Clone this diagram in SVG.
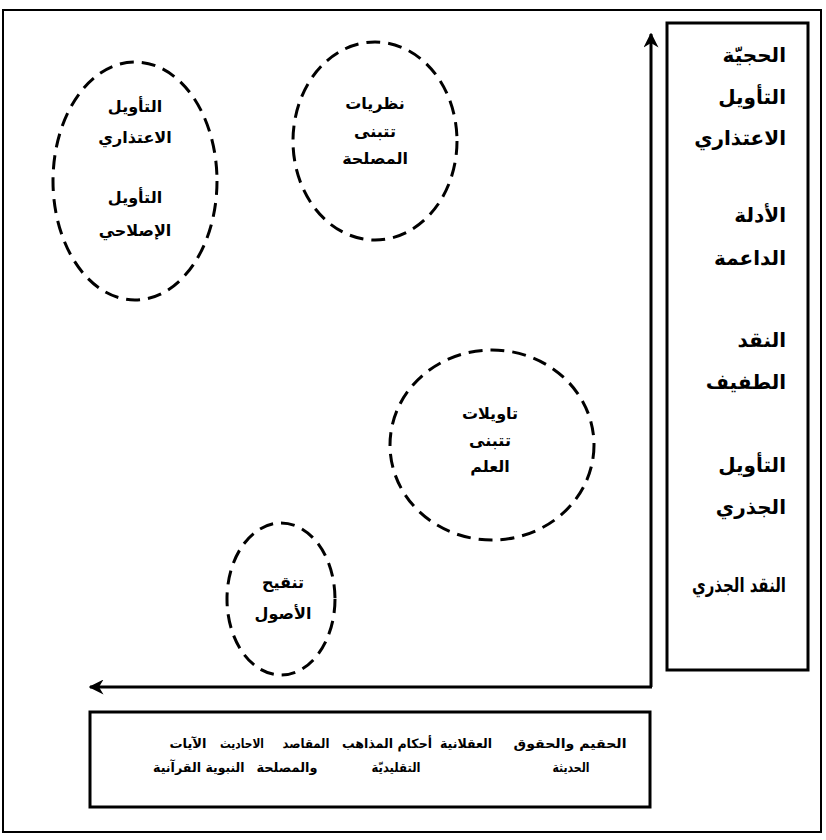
<svg xmlns="http://www.w3.org/2000/svg" width="826" height="840" viewBox="0 0 826 840">
<style>
.frame{fill:none;stroke:#000;stroke-width:2}
.box{fill:none;stroke:#000;stroke-width:3}
.dash{fill:none;stroke:#000;stroke-width:3;stroke-dasharray:14 8}
.ax{fill:none;stroke:#000;stroke-width:3}
text{font-family:"DejaVu Sans","Noto Sans",sans-serif;font-weight:bold;fill:#000}
.r{font-size:20px;text-anchor:end}
.e{font-size:16px;text-anchor:middle}
.b{font-size:13px;text-anchor:middle}
</style>
<defs>
<marker id="ah" viewBox="0 0 10 10" refX="9" refY="5" markerWidth="5" markerHeight="5" orient="auto" markerUnits="strokeWidth">
<path d="M0,0 L10,5 L0,10 L3,5 Z" fill="#000"/>
</marker>
</defs>
<rect x="0" y="0" width="826" height="840" fill="#fff"/>
<rect class="frame" x="3" y="10" width="818" height="822"/>
<g id="connectors">
<line class="ax" x1="651" y1="687" x2="651" y2="34" marker-end="url(#ah)"/>
<line class="ax" x1="652" y1="687" x2="90" y2="687" marker-end="url(#ah)"/>
</g>
<g id="scale-box">
<rect class="box" x="667" y="23" width="141" height="647"/>
<text class="r" x="786" y="62">الحجيّة</text>
<text class="r" x="786" y="104">التأويل</text>
<text class="r" x="786" y="145">الاعتذاري</text>
<text class="r" x="786" y="222">الأدلة</text>
<text class="r" x="786" y="265">الداعمة</text>
<text class="r" x="786" y="347">النقد</text>
<text class="r" x="786" y="389">الطفيف</text>
<text class="r" x="786" y="472">التأويل</text>
<text class="r" x="786" y="514">الجذري</text>
<text class="r" x="786" y="592" textLength="94" lengthAdjust="spacingAndGlyphs">النقد الجذري</text>
</g>
<g id="sources-box">
<rect class="box" x="90" y="712" width="560" height="95"/>
<text class="b" x="570" y="748" textLength="113" lengthAdjust="spacingAndGlyphs">الحقيم والحقوق</text>
<text class="b" x="571" y="772" textLength="37" lengthAdjust="spacingAndGlyphs">الحديثة</text>
<text class="b" x="466" y="748" textLength="52" lengthAdjust="spacingAndGlyphs">العقلانية</text>
<text class="b" x="387" y="748" textLength="90" lengthAdjust="spacingAndGlyphs">أحكام المذاهب</text>
<text class="b" x="396" y="772" textLength="49" lengthAdjust="spacingAndGlyphs">التقليديّة</text>
<text class="b" x="306" y="748" textLength="47" lengthAdjust="spacingAndGlyphs">المقاصد</text>
<text class="b" x="287" y="772" textLength="61" lengthAdjust="spacingAndGlyphs">والمصلحة</text>
<text class="b" x="242" y="748" textLength="44" lengthAdjust="spacingAndGlyphs">الاحاديث</text>
<text class="b" x="225" y="772" textLength="39" lengthAdjust="spacingAndGlyphs">النبوية</text>
<text class="b" x="188" y="748" textLength="37" lengthAdjust="spacingAndGlyphs">الآيات</text>
<text class="b" x="177" y="772" textLength="48" lengthAdjust="spacingAndGlyphs">القرآنية</text>
</g>
<g id="node-apologetic">
<ellipse class="dash" cx="135" cy="181" rx="82" ry="119"/>
<text class="e" x="135" y="112">التأويل</text>
<text class="e" x="135" y="143">الاعتذاري</text>
<text class="e" x="135" y="203">التأويل</text>
<text class="e" x="135" y="236">الإصلاحي</text>
</g>
<g id="node-maslaha">
<ellipse class="dash" cx="375" cy="141" rx="82" ry="99"/>
<text class="e" x="375" y="109">نظريات</text>
<text class="e" x="375" y="137">تتبنى</text>
<text class="e" x="375" y="164">المصلحة</text>
</g>
<g id="node-science">
<ellipse class="dash" cx="492" cy="445" rx="102" ry="95"/>
<text class="e" x="490" y="419">تاويلات</text>
<text class="e" x="490" y="446">تتبنى</text>
<text class="e" x="490" y="472">العلم</text>
</g>
<g id="node-usul">
<ellipse class="dash" cx="281" cy="599" rx="54" ry="76"/>
<text class="e" x="283" y="588">تنقيح</text>
<text class="e" x="283" y="619">الأصول</text>
</g>
</svg>
